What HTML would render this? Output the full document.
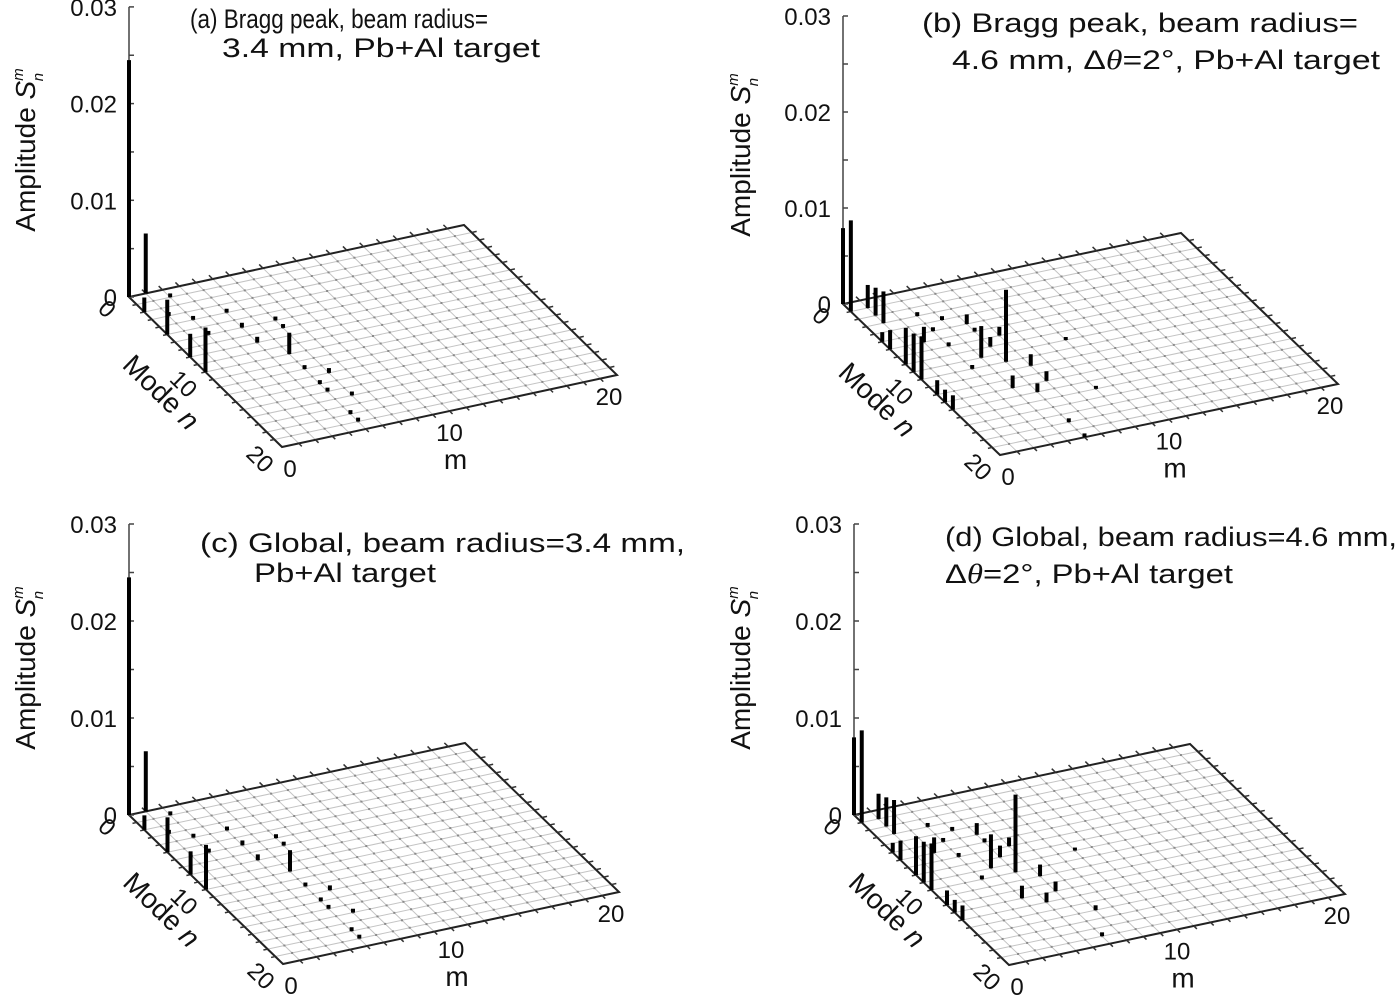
<!DOCTYPE html>
<html><head><meta charset="utf-8"><style>
html,body{margin:0;padding:0;background:#fff;}
svg{display:block;font-family:"Liberation Sans",Arial,sans-serif;}
</style></head><body>
<svg id="fig" width="1400" height="1001" viewBox="0 0 1400 1001" xmlns="http://www.w3.org/2000/svg">
<rect width="1400" height="1001" fill="#fff"/>
<g font-size="27" fill="#111">
<text x="190" y="28" textLength="298" lengthAdjust="spacingAndGlyphs">(a) Bragg peak, beam radius=</text>
<text x="222" y="57" textLength="318" lengthAdjust="spacingAndGlyphs">3.4 mm, Pb+Al target</text></g>
<g font-size="27" fill="#111">
<text x="922" y="32" textLength="436" lengthAdjust="spacingAndGlyphs">(b) Bragg peak, beam radius=</text>
<text x="952" y="69" textLength="428" lengthAdjust="spacingAndGlyphs">4.6 mm, Δ<tspan font-style="italic" font-family="Liberation Serif">θ</tspan>=2°, Pb+Al target</text></g>
<g font-size="27" fill="#111">
<text x="200" y="552" textLength="485" lengthAdjust="spacingAndGlyphs">(c) Global, beam radius=3.4 mm,</text>
<text x="254" y="582" textLength="182" lengthAdjust="spacingAndGlyphs">Pb+Al target</text></g>
<g font-size="27" fill="#111">
<text x="945" y="546" textLength="452" lengthAdjust="spacingAndGlyphs">(d) Global, beam radius=4.6 mm,</text>
<text x="945" y="583" textLength="288" lengthAdjust="spacingAndGlyphs">Δ<tspan font-style="italic" font-family="Liberation Serif">θ</tspan>=2°, Pb+Al target</text></g>
</svg>
<script>
// panel a
const barsA_n = [0,0,2,5,8,10,10,1,3,4,4,6,6,6,8,7,12,13,14,15,16,18,19];
const barsA_m = [0,1,0,0,0,0,5,2,1,2,4,2,4,6,4,6,5,6,5,5,6,5,5];
const barsA_v = [0.0245,0.0062,0.0015,0.0036,0.0024,0.0046,0.0022,0.0004,0.0004,0.0004,0.0004,0.0004,0.0005,0.0004,0.0006,0.0004,0.0004,0.0005,0.0004,0.0004,0.0004,0.0004,0.0004];
// panel b
const barsB_n = [0,1,1,2,3,5,6,8,9,10,12,13,14,5,9,8,10,11,13,14,13,6,7,3,4,5,7,6,10,9,15,18,20];
const barsB_m = [0,0,1,1,1,0,0,0,0,0,0,0,0,5,4,5,5,6,6,5,4,2,6,3,4,3,3,5,3,9,8,5,5];
const barsB_v = [0.0079,0.0095,0.0024,0.0029,0.0033,0.0010,0.0020,0.0038,0.0040,0.0045,0.0015,0.0013,0.0015,0.0010,0.0033,0.0010,0.0075,0.0012,0.0010,0.0009,0.0013,0.0016,0.0009,0.0004,0.0004,0.0004,0.0004,0.0004,0.0004,0.0003,0.0003,0.0004,0.0004];
// panel c
const barsC_n = [0,0,2,5,8,10,10,1,3,4,4,6,6,6,8,7,12,13,14,15,16,18,19];
const barsC_m = [0,1,0,0,0,0,5,2,1,2,4,2,4,6,4,6,5,6,5,5,6,5,5];
const barsC_v = [0.0245,0.0062,0.0015,0.0036,0.0024,0.0046,0.0022,0.0004,0.0004,0.0004,0.0004,0.0004,0.0005,0.0004,0.0006,0.0004,0.0004,0.0005,0.0004,0.0004,0.0004,0.0004,0.0004];
// panel d
const barsD_n = [0,1,1,2,3,5,6,8,9,10,12,13,14,5,9,8,10,11,13,14,13,6,7,3,4,5,7,6,10,9,16,19];
const barsD_m = [0,0,1,1,1,0,0,0,0,0,0,0,0,5,4,5,5,6,6,5,4,2,6,3,4,3,3,5,3,9,7,6];
const barsD_v = [0.0080,0.0095,0.0026,0.0030,0.0035,0.0010,0.0020,0.0040,0.0042,0.0048,0.0015,0.0013,0.0015,0.0012,0.0035,0.0012,0.0080,0.0012,0.0010,0.0010,0.0013,0.0016,0.0009,0.0004,0.0004,0.0004,0.0004,0.0004,0.0004,0.0003,0.0005,0.0004];
const zTicks = [0,0.01,0.02,0.03];
const zTickLabels = ["0","0.01","0.02","0.03"];
const nTicks = [0,10,20];
const mTicks = [0,10,20];

const NS='http://www.w3.org/2000/svg';
const svg=document.getElementById('fig');
function mk(tag,attrs,parent){const e=document.createElementNS(NS,tag);for(const k in attrs)e.setAttribute(k,attrs[k]);(parent||svg).appendChild(e);return e;}

const panels=[
 {id:'a',O:[129,297],nv:[7.65,7.5],mv:[16.75,-3.6],z:9670,N:barsA_n,M:barsA_m,V:barsA_v,yt:[25,150]},
 {id:'b',O:[843,304],nv:[7.85,7.55],mv:[16.9,-3.55],z:9600,N:barsB_n,M:barsB_m,V:barsB_v,yt:[740,155]},
 {id:'c',O:[129,815],nv:[7.7,7.45],mv:[16.8,-3.6],z:9700,N:barsC_n,M:barsC_m,V:barsC_v,yt:[25,668]},
 {id:'d',O:[854,815],nv:[7.75,7.5],mv:[16.8,-3.55],z:9700,N:barsD_n,M:barsD_m,V:barsD_v,yt:[740,668]}
];
panels.forEach(p=>{
 const g=mk('g',{});
 
 
 const P=(n,m)=>[p.O[0]+n*p.nv[0]+m*p.mv[0], p.O[1]+n*p.nv[1]+m*p.mv[1]];
 const Z=v=>v*p.z;
 // grid
 const grid=mk('g',{stroke:'#c4c4c4','stroke-width':1},g);
 
 
 for(let i=1;i<20;i++){
  const a=P(i,0),b=P(i,20);mk('line',{x1:a[0],y1:a[1],x2:b[0],y2:b[1]},grid);
  const c=P(0,i),d=P(20,i);mk('line',{x1:c[0],y1:c[1],x2:d[0],y2:d[1]},grid);
 }
 const dots=mk('g',{fill:'#8a8a8a'},g);
 
 
 for(let i=1;i<20;i++)for(let j=1;j<20;j++){const q=P(i,j);mk('rect',{x:q[0]-1,y:q[1]-1,width:2,height:2},dots);}
 // border
 const c0=P(0,0),c1=P(20,0),c2=P(20,20),c3=P(0,20);
 const bd=mk('polygon',{points:[c0,c1,c2,c3].map(q=>q.join(',')).join(' '),fill:'none',stroke:'#222','stroke-width':2},g);
 
 
 const et=mk('g',{stroke:'#333','stroke-width':1.5},g);
 for(let i=1;i<20;i++){
  const a=P(0,i);mk('line',{x1:a[0],y1:a[1],x2:a[0]-p.nv[0]*0.5,y2:a[1]-p.nv[1]*0.5},et);
  const b=P(i,20);mk('line',{x1:b[0],y1:b[1],x2:b[0]+p.mv[0]*0.3,y2:b[1]+p.mv[1]*0.3},et);
  const c=P(i,0);mk('line',{x1:c[0],y1:c[1],x2:c[0]-p.mv[0]*0.25,y2:c[1]-p.mv[1]*0.25},et);
  const d=P(20,i);mk('line',{x1:d[0],y1:d[1],x2:d[0]+p.nv[0]*0.4,y2:d[1]+p.nv[1]*0.4},et);
 }
 // z axis
 const ax=mk('g',{stroke:'#444','stroke-width':1.5},g);
 
 
 mk('line',{x1:p.O[0],y1:p.O[1],x2:p.O[0],y2:p.O[1]-Z(0.03)},ax);
 for(let k=0;k<=6;k++){const y=p.O[1]-Z(k*0.005);mk('line',{x1:p.O[0],y1:y,x2:p.O[0]+5,y2:y},ax);}
 zTicks.forEach((t,i)=>{
  const tx=mk('text',{x:p.O[0]-12,y:p.O[1]-Z(t)+9,'text-anchor':'end','font-size':24,fill:'#111'},g);
  
  
  tx.textContent=zTickLabels[i];
 });
 // y-axis title
 const yt=mk('text',{x:p.yt[0],y:p.yt[1],'text-anchor':'middle','font-size':28,fill:'#111',transform:`rotate(-90 ${p.yt[0]} ${p.yt[1]})`,dy:10},g);
 
 
 yt.innerHTML='Amplitude <tspan font-style="italic">S</tspan><tspan font-size="15" font-style="italic" dy="-12">m</tspan><tspan font-size="15" font-style="italic" dx="-13" dy="20">n</tspan>';
 // n tick labels
 const ang=Math.atan2(p.nv[1],p.nv[0])*180/Math.PI;
 nTicks.forEach(t=>{
  const q=P(t,0);const x=q[0]-22,y=q[1]+12;
  const tx=mk('text',{x:x,y:y,'text-anchor':'middle','font-size':24,fill:'#111',transform:`rotate(${ang} ${x} ${y})`,dy:8},g);
  
  
  tx.textContent=t;
 });
 const mq=P(10,0);const mx=mq[0]-44,my=mq[1]+20;
 const nt=mk('text',{x:mx,y:my,'text-anchor':'middle','font-size':28,fill:'#111',transform:`rotate(${ang} ${mx} ${my})`,dy:10},g);
 
 
 nt.innerHTML='Mode <tspan font-style="italic">n</tspan>';
 mTicks.forEach(t=>{
  const q=P(20,t);
  const tx=mk('text',{x:q[0]+8-t*0.8,y:q[1]+30,'text-anchor':'middle','font-size':24,fill:'#111'},g);
  
  
  tx.textContent=t;
 });
 const mm=P(20,10);
 const mt=mk('text',{x:mm[0]+6,y:mm[1]+58,'text-anchor':'middle','font-size':28,fill:'#111'},g);
 
 
 mt.textContent='m';
 // bars
 const bars=mk('g',{stroke:'#000','stroke-width':4},g);
 
 
 for(let i=0;i<p.V.length;i++){
  const q=P(p.N[i],p.M[i]);const h=Math.max(Z(p.V[i]),3);
  const l=mk('line',{x1:q[0],y1:q[1],x2:q[0],y2:q[1]-h},bars);
  
  
 }
});
</script>
</body></html>
